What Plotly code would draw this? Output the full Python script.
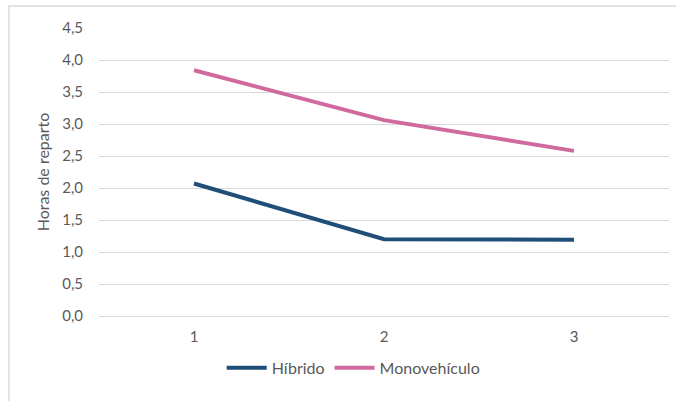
import plotly.graph_objects as go

categories = [1, 2, 3]
hibrido = [2.07, 1.20, 1.19]
monovehiculo = [3.84, 3.06, 2.58]
y_ticks = [0, 0.5, 1.0, 1.5, 2.0, 2.5, 3.0, 3.5, 4.0, 4.5]
y_tick_labels = [f"{v:.1f}".replace(".", ",") for v in y_ticks]

font_family = "Lato, Open Sans, Liberation Sans, Arial, sans-serif"
text_color = "#595959"
grid_color = "#D9D9D9"

fig = go.Figure()
fig.add_trace(go.Scatter(
    x=categories, y=hibrido, name="Híbrido", mode="lines",
    line=dict(color="#1F4E79", width=4),
))
fig.add_trace(go.Scatter(
    x=categories, y=monovehiculo, name="Monovehículo", mode="lines",
    line=dict(color="#D06A9E", width=4),
))

# light frame around the whole chart area
fig.add_shape(
    type="rect", xref="paper", yref="paper",
    x0=-0.158, x1=1.02, y0=-0.32, y1=1.076,
    line=dict(color=grid_color, width=1.5), fillcolor="rgba(0,0,0,0)",
    layer="below",
)

fig.update_layout(
    width=676, height=401,
    margin=dict(l=99, r=7, t=28, b=85),
    paper_bgcolor="white", plot_bgcolor="white",
    font=dict(family=font_family, size=15, color=text_color),
    showlegend=True,
    legend=dict(
        orientation="h", x=0.446, xanchor="center", y=-0.18, yanchor="middle",
        font=dict(family=font_family, size=16, color=text_color),
        itemwidth=40, traceorder="normal",
    ),
    xaxis=dict(
        range=[0.5, 3.5], tickmode="array", tickvals=categories,
        ticktext=[str(c) for c in categories],
        showgrid=False, zeroline=False, showline=False, ticks="",
        ticklabelstandoff=10,
        tickfont=dict(size=15, color=text_color),
    ),
    yaxis=dict(
        range=[0, 4.5], tickmode="array", tickvals=y_ticks, ticktext=y_tick_labels,
        showgrid=True, gridcolor=grid_color, gridwidth=1,
        zeroline=True, zerolinecolor=grid_color, zerolinewidth=1,
        showline=False, ticks="", ticklabelstandoff=15,
        tickfont=dict(size=15, color=text_color),
        title=dict(text="Horas de reparto", font=dict(size=16, color=text_color), standoff=8),
    ),
)

fig.write_html("out.html")
